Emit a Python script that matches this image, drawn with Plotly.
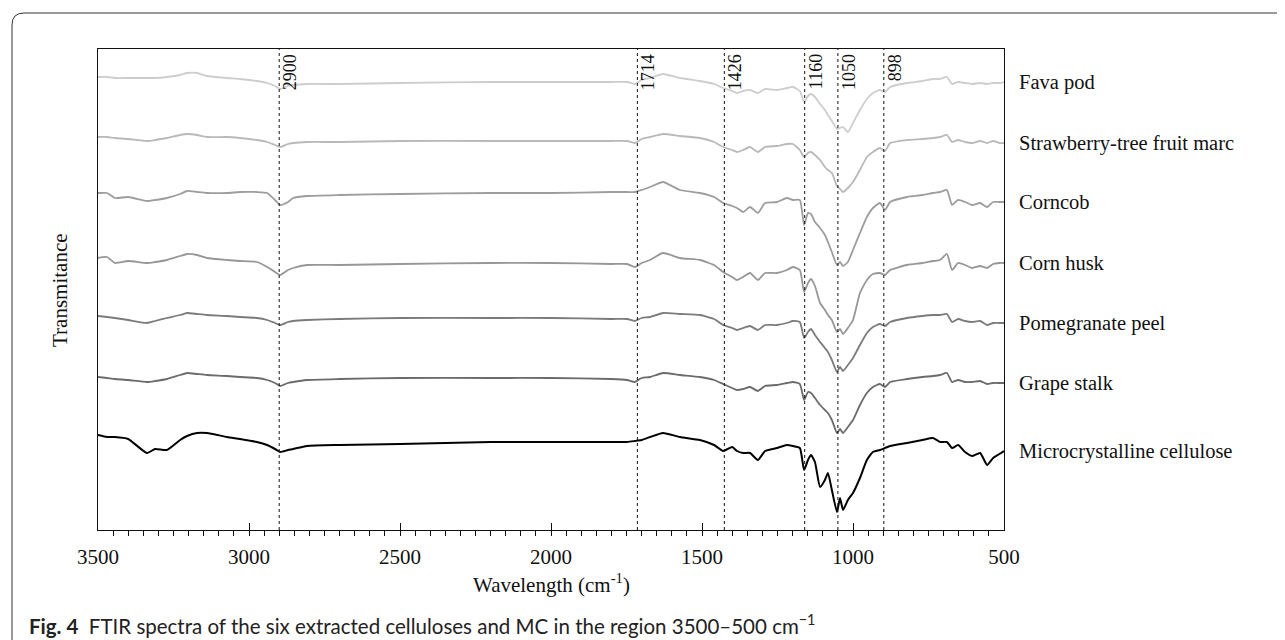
import plotly.graph_objects as go

# ---------------- data ----------------
wavenumber = [3500, 3470, 3444, 3400, 3338, 3311, 3272, 3228, 3205, 3172, 3139, 3073, 3030, 2974,
              2940, 2914, 2897, 2871, 2854, 2808, 2700, 2500, 2200, 2000, 1800, 1748, 1722, 1700,
              1672, 1629, 1573, 1507, 1460, 1430, 1400, 1384, 1364, 1341, 1315, 1291, 1252, 1219,
              1199, 1176, 1162, 1149, 1139, 1126, 1109, 1093, 1083, 1070, 1053, 1043, 1033, 1017,
              1000, 977, 954, 934, 911, 894, 877, 821, 770, 735, 712, 689, 672, 652, 629, 606,
              579, 556, 536, 515, 500]

fava_pod = [453, 453, 452, 452, 452, 452, 453, 455, 457, 457, 454, 452, 451, 449, 447, 444, 441, 444,
            445, 446, 446, 447, 448, 448, 448, 448, 446, 450, 452, 456, 452, 449, 446, 442, 439, 437,
            439, 440, 437, 441, 440, 442, 443, 439, 428, 434, 436, 433, 426, 420, 415, 409, 401, 402,
            403, 398, 407, 420, 431, 437, 440, 438, 443, 447, 449, 451, 451, 453, 446, 448, 447, 446,
            447, 446, 447, 447, 448]

strawberry_tree = [393, 393, 392, 391, 389, 390, 392, 395, 396, 395, 393, 393, 392, 390, 388, 385, 383,
                   386, 387, 388, 388, 389, 389, 389, 389, 389, 387, 391, 393, 396, 394, 392, 388, 383,
                   380, 378, 380, 383, 378, 383, 384, 386, 386, 380, 373, 377, 378, 375, 370, 363, 360,
                   357, 344, 341, 338, 342, 348, 360, 373, 378, 382, 379, 387, 390, 391, 392, 393, 395,
                   388, 390, 388, 387, 389, 387, 389, 387, 387]

corncob = [337, 337, 332, 333, 329, 330, 332, 336, 339, 338, 337, 337, 338, 338, 337, 330, 325, 328,
           332, 334, 335, 336, 337, 337, 338, 338, 338, 340, 343, 348, 340, 337, 333, 327, 324, 322,
           318, 323, 317, 327, 328, 332, 330, 330, 305, 317, 316, 308, 302, 295, 288, 278, 265, 268,
           264, 268, 280, 297, 313, 322, 327, 320, 328, 333, 335, 337, 338, 340, 325, 330, 328, 325,
           327, 323, 328, 328, 328]

corn_husk = [272, 273, 267, 269, 267, 268, 270, 274, 276, 275, 272, 270, 269, 268, 263, 258, 255, 260,
             262, 265, 265, 266, 267, 267, 266, 266, 263, 267, 270, 277, 272, 270, 265, 258, 253, 250,
             253, 257, 250, 257, 257, 260, 263, 260, 238, 247, 251, 244, 227, 220, 215, 210, 198, 201,
             196, 202, 210, 237, 250, 256, 257, 255, 260, 265, 267, 269, 270, 276, 260, 267, 265, 262,
             264, 262, 266, 267, 267]

pomegranate_peel = [214, 213, 212, 210, 207, 209, 212, 215, 217, 216, 215, 214, 213, 212, 210, 207, 205,
                    208, 209, 210, 211, 212, 212, 212, 211, 211, 209, 212, 213, 217, 216, 215, 211, 205,
                    202, 200, 202, 204, 200, 205, 205, 207, 209, 208, 192, 198, 201, 195, 188, 182, 178,
                    170, 158, 163, 159, 165, 172, 185, 197, 203, 206, 204, 208, 212, 214, 215, 215, 216,
                    208, 211, 209, 208, 209, 205, 207, 207, 207]

grape_stalk = [153, 152, 151, 150, 148, 149, 151, 155, 157, 156, 155, 154, 153, 152, 150, 147, 144, 147,
               148, 150, 151, 152, 152, 152, 151, 150, 148, 152, 153, 157, 155, 153, 150, 146, 142, 140,
               141, 143, 139, 144, 145, 147, 148, 146, 130, 138, 137, 132, 125, 120, 117, 110, 97, 101,
               97, 103, 110, 125, 137, 143, 146, 143, 148, 151, 153, 154, 155, 157, 148, 150, 148, 148,
               149, 146, 147, 147, 147]

microcrystalline = [95, 93, 93, 91, 77, 81, 80, 90, 94, 97, 97, 93, 91, 88, 85, 81, 78, 80, 81, 84, 85,
                    86, 88, 88, 88, 88, 89, 90, 93, 97, 93, 90, 85, 79, 83, 79, 77, 77, 70, 79, 82, 85,
                    84, 82, 60, 70, 75, 68, 43, 50, 57, 40, 18, 32, 20, 30, 37, 52, 70, 78, 80, 82, 84,
                    87, 90, 92, 88, 88, 82, 85, 78, 74, 77, 65, 72, 76, 79]

series_names = ["Fava pod", "Strawberry-tree fruit marc", "Corncob", "Corn husk",
                "Pomegranate peel", "Grape stalk", "Microcrystalline cellulose"]
series_values = [fava_pod, strawberry_tree, corncob, corn_husk, pomegranate_peel, grape_stalk,
                 microcrystalline]
series_colors = ["#cdcdcd", "#b9b9b9", "#9d9d9d", "#979797", "#7b7b7b", "#6b6b6b", "#000000"]

peak_positions = [2900, 1714, 1426, 1160, 1050, 898]
x_ticks = [3500, 3000, 2500, 2000, 1500, 1000, 500]

# ---------------- layout geometry ----------------
# the page has an 8px body margin, so the figure is drawn 8px in from the window edge
OFF = 8
FW, FH = 1285 - OFF, 640 - OFF
L, R, T, B = 98 - OFF, 1004 - OFF, 49 - OFF, 530 - OFF   # plot area in figure pixels
PW, PH = R - L, B - T


def px(page_x):
    return (page_x - OFF - L) / PW


def py(page_y):
    return (B - (page_y - OFF)) / PH


SERIF = "Liberation Serif, Times New Roman, serif"

fig = go.Figure()

for name, vals, color in zip(series_names, series_values, series_colors):
    assert len(vals) == len(wavenumber), name
    fig.add_trace(go.Scatter(
        x=wavenumber, y=vals, mode="lines", name=name, showlegend=False, hoverinfo="skip",
        line=dict(color=color, width=2 if color == "#000000" else 1.8, shape="spline", smoothing=0.5),
    ))
    fig.add_annotation(x=px(1017), xref="paper", y=vals[-1], yref="y", text=name,
                       showarrow=False, xanchor="left", yanchor="middle",
                       font=dict(family=SERIF, size=20.5, color="#111"))

for p in peak_positions:
    fig.add_shape(type="line", x0=p, x1=p, xref="x", y0=0, y1=1, yref="paper",
                  line=dict(color="#111", width=1, dash="3px,3px"))
    fig.add_annotation(x=p, xref="x", xshift=11, y=1, yref="paper", yshift=-3,
                       text=str(p), textangle=-90, showarrow=False,
                       xanchor="center", yanchor="top",
                       font=dict(family=SERIF, size=18, color="#111"))

# axis titles
fig.add_annotation(x=0.5, xref="paper", y=py(583), yref="paper",
                   text="Wavelength (cm<sup>-1</sup>)", showarrow=False,
                   xanchor="center", yanchor="middle",
                   font=dict(family=SERIF, size=21, color="#111"))
fig.add_annotation(x=px(60), xref="paper", y=py(290), yref="paper",
                   text="Transmitance", textangle=-90, showarrow=False,
                   xanchor="center", yanchor="middle",
                   font=dict(family=SERIF, size=21, color="#111"))

# caption
fig.add_annotation(x=px(27), xref="paper", y=py(624), yref="paper",
                   text="<b>Fig. 4</b>  FTIR spectra of the six extracted celluloses and MC in the region 3500–500 cm<sup>−1</sup>",
                   showarrow=False, xanchor="left", yanchor="middle",
                   font=dict(family="Lato, Open Sans, sans-serif", size=20.5, color="#222"))

# outer figure frame (top and left sides with rounded corner)
rr = 12
fig.add_shape(type="path", xref="paper", yref="paper",
              path=(f"M {px(12)} {py(640)} L {px(12)} {py(13 + rr)} "
                    f"Q {px(12)} {py(13)} {px(12 + rr)} {py(13)} L {px(1285)} {py(13)}"),
              line=dict(color="#333", width=1))

fig.update_layout(
    width=FW, height=FH,
    margin=dict(l=L, r=FW - R, t=T, b=FH - B, pad=0),
    paper_bgcolor="white", plot_bgcolor="white",
    showlegend=False,
)
fig.update_xaxes(
    range=[3500, 500], tickvals=x_ticks, ticks="inside", ticklen=7, tickwidth=1, tickcolor="#111",
    showline=True, linecolor="#111", linewidth=1.2, mirror=True, showgrid=False, zeroline=False,
    tickfont=dict(family=SERIF, size=21, color="#111"), ticklabelstandoff=8,
    minor=dict(dtick=50, tick0=500, ticks="outside", ticklen=5, tickwidth=1, tickcolor="#111", showgrid=False),
)
fig.update_yaxes(
    range=[0, PH], showticklabels=False, ticks="", showline=True, linecolor="#111", linewidth=1.2,
    mirror=True, showgrid=False, zeroline=False,
)

fig.write_html("out.html")
